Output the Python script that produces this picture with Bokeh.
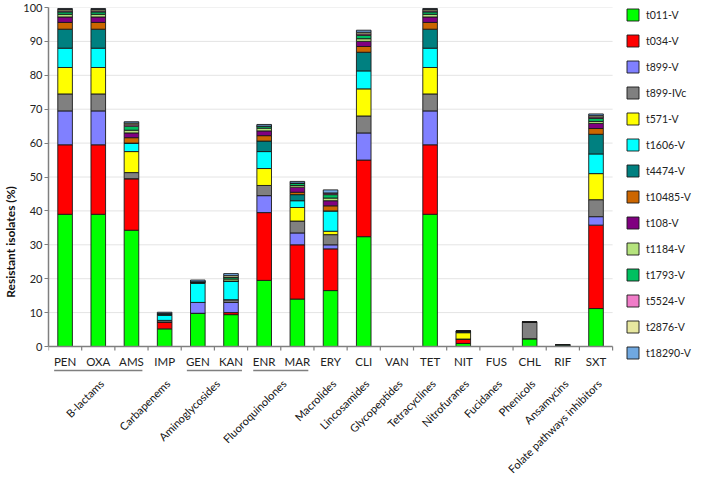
import math
from bokeh.plotting import figure
from bokeh.models import ColumnDataSource, Legend, LegendItem, FixedTicker, Range1d
from bokeh.core.properties import value
from bokeh.embed import file_html
from bokeh.resources import INLINE

# ---------------- data ----------------
categories = ["PEN", "OXA", "AMS", "IMP", "GEN", "KAN", "ENR", "MAR", "ERY",
              "CLI", "VAN", "TET", "NIT", "FUS", "CHL", "RIF", "SXT"]

groups = [
    ("B-lactams", ["PEN", "OXA", "AMS"]),
    ("Carbapenems", ["IMP"]),
    ("Aminoglycosides", ["GEN", "KAN"]),
    ("Fluoroquinolones", ["ENR", "MAR"]),
    ("Macrolides", ["ERY"]),
    ("Lincosamides", ["CLI"]),
    ("Glycopeptides", ["VAN"]),
    ("Tetracyclines", ["TET"]),
    ("Nitrofuranes", ["NIT"]),
    ("Fucidanes", ["FUS"]),
    ("Phenicols", ["CHL"]),
    ("Ansamycins", ["RIF"]),
    ("Folate pathways inhibitors", ["SXT"]),
]

series_names = ["t011-V", "t034-V", "t899-V", "t899-IVc", "t571-V", "t1606-V",
                "t4474-V", "t10485-V", "t108-V", "t1184-V", "t1793-V",
                "t5524-V", "t2876-V", "t18290-V"]

series_colors = ["#00FF00", "#FF0000", "#8080FF", "#808080", "#FFFF00", "#00FFFF",
                 "#008080", "#CC6600", "#800080", "#B5E37D", "#00C060",
                 "#F07CC8", "#E8E8A0", "#70A8E0"]

#            PEN   OXA   AMS   IMP  GEN  KAN  ENR   MAR   ERY   CLI   VAN  TET   NIT  FUS  CHL  RIF  SXT
t011_V   = [39.0, 39.0, 34.3, 5.2, 9.8, 9.4, 19.5, 14.0, 16.5, 32.4, 0.0, 39.0, 0.9, 0.0, 2.3, 0.0, 11.2]
t034_V   = [20.5, 20.5, 15.2, 2.0, 0.0, 0.6, 20.0, 16.0, 12.3, 22.6, 0.0, 20.5, 1.3, 0.0, 0.0, 0.0, 24.6]
t899_V   = [10.0, 10.0, 0.0, 0.0, 3.2, 3.0, 5.0, 3.5, 1.2, 8.0, 0.0, 10.0, 0.0, 0.0, 0.0, 0.0, 2.5]
t899_IVc = [5.0, 5.0, 1.8, 0.5, 0.0, 0.8, 3.0, 3.5, 3.0, 5.0, 0.0, 5.0, 0.0, 0.0, 5.0, 0.0, 5.0]
t571_V   = [7.8, 7.8, 6.2, 0.0, 0.0, 0.0, 5.0, 4.0, 1.0, 8.0, 0.0, 7.8, 1.9, 0.0, 0.0, 0.0, 7.7]
t1606_V  = [5.7, 5.7, 2.5, 1.5, 5.6, 5.5, 5.0, 2.0, 6.0, 5.3, 0.0, 5.7, 0.0, 0.0, 0.0, 0.0, 5.8]
t4474_V  = [5.6, 5.6, 0.0, 0.5, 0.5, 0.0, 3.1, 1.8, 0.0, 5.5, 0.0, 5.6, 0.4, 0.0, 0.0, 0.0, 5.8]
t10485_V = [2.0, 2.0, 1.6, 0.0, 0.0, 0.0, 1.6, 0.7, 1.5, 1.7, 0.0, 2.0, 0.0, 0.0, 0.0, 0.0, 1.7]
t108_V   = [1.6, 1.6, 1.4, 0.0, 0.0, 0.0, 1.4, 1.5, 1.5, 1.5, 0.0, 1.6, 0.0, 0.0, 0.0, 0.0, 1.5]
t1184_V  = [0.8, 0.8, 0.8, 0.0, 0.0, 0.6, 0.8, 0.5, 0.8, 0.8, 0.0, 0.8, 0.0, 0.0, 0.0, 0.0, 0.6]
t1793_V  = [0.7, 0.7, 1.2, 0.0, 0.0, 0.5, 0.6, 0.7, 1.0, 1.0, 0.0, 0.7, 0.0, 0.0, 0.0, 0.5, 0.9]
t5524_V  = [0.3, 0.3, 0.4, 0.0, 0.0, 0.0, 0.0, 0.0, 0.5, 0.4, 0.0, 0.3, 0.0, 0.0, 0.0, 0.0, 0.4]
t2876_V  = [0.4, 0.4, 0.5, 0.0, 0.0, 0.5, 0.0, 0.0, 0.0, 0.5, 0.0, 0.4, 0.0, 0.0, 0.0, 0.0, 0.4]
t18290_V = [0.3, 0.3, 0.4, 0.4, 0.5, 0.6, 0.5, 0.5, 0.9, 0.6, 0.0, 0.3, 0.0, 0.0, 0.0, 0.0, 0.5]

series_values = [t011_V, t034_V, t899_V, t899_IVc, t571_V, t1606_V, t4474_V,
                 t10485_V, t108_V, t1184_V, t1793_V, t5524_V, t2876_V, t18290_V]

y_ticks = list(range(0, 101, 10))
y_label = "Resistant isolates (%)"

# ---------------- layout ----------------
FONT = "Lato"
W, H = 693, 476
BORDER_L, BORDER_T = 36, 7
FRAME_W = W - BORDER_L
FRAME_H = H - BORDER_T
N = len(categories)
PX_X = 33.8                    # pixels per category
X_END = FRAME_W / PX_X
PX_Y = 3.39                    # pixels per percent
Y_START = 100 - FRAME_H / PX_Y


def px_down(px):
    """data-y of a point px pixels below the baseline"""
    return -px / PX_Y


centers = [i + 0.5 for i in range(N)]
data = {"x": centers}
for name, vals in zip(series_names, series_values):
    data[name] = vals
source = ColumnDataSource(data)

p = figure(width=W, height=H, output_backend="svg", toolbar_location=None,
           x_range=Range1d(0, X_END), y_range=Range1d(Y_START, 100),
           x_axis_location=None,
           min_border_left=BORDER_L, min_border_right=0,
           min_border_top=BORDER_T, min_border_bottom=0)
p.outline_line_color = None
p.xgrid.visible = False
p.ygrid.visible = False
p.background_fill_color = "white"

# gridlines
p.segment(x0=[0] * (len(y_ticks) - 1), x1=[N] * (len(y_ticks) - 1),
          y0=y_ticks[1:], y1=y_ticks[1:], line_color="#e4e4e4", line_width=1,
          level="underlay")

# y axis
ax = p.yaxis[0]
ax.bounds = (0, 100)
ax.ticker = FixedTicker(ticks=y_ticks)
ax.axis_line_color = "#7f7f7f"
ax.axis_line_width = 1.5
ax.major_tick_line_color = "#7f7f7f"
ax.major_tick_out = 4
ax.major_tick_in = 0
ax.minor_tick_out = 0
ax.minor_tick_in = 0
ax.major_label_standoff = 2
ax.major_label_text_font = FONT
ax.major_label_text_font_size = "11px"
ax.major_label_text_color = "#222222"
ax.axis_label = y_label
ax.axis_label_text_font = FONT
ax.axis_label_text_font_size = "12px"
ax.axis_label_text_font_style = "bold"
ax.axis_label_text_color = "#111111"
ax.axis_label_standoff = 2

# bars
renderers = p.vbar_stack(series_names, x="x", width=0.44, source=source,
                         fill_color=series_colors, line_color="#1a1a1a",
                         line_width=0.9)

# x axis (drawn in the frame, below the baseline)
p.segment(x0=[0], x1=[N], y0=[0], y1=[0], line_color="#7f7f7f", line_width=1.5)
bounds_x = list(range(N + 1))
p.segment(x0=bounds_x, x1=bounds_x, y0=[0] * (N + 1),
          y1=[px_down(4)] * (N + 1), line_color="#7f7f7f", line_width=1.2)

p.text(x=centers, y=[px_down(15)] * N, text=categories,
       text_align="center", text_baseline="middle",
       text_font=value(FONT), text_font_size="11.5px", text_color="#222222")

# group underlines and rotated group labels
ux0, ux1, gx, gnames = [], [], [], []
for gname, members in groups:
    idx = [categories.index(m) for m in members]
    c0, c1 = centers[min(idx)], centers[max(idx)]
    if len(idx) > 1:
        ux0.append(c0 - 0.33)
        ux1.append(c1 + 0.33)
    gx.append((c0 + c1) / 2 + 0.1)
    gnames.append(gname)

p.segment(x0=ux0, x1=ux1, y0=[px_down(24)] * len(ux0), y1=[px_down(24)] * len(ux0),
          line_color="#7f7f7f", line_width=1.6)

p.text(x=gx, y=[px_down(35)] * len(gx), text=gnames, angle=math.pi / 4,
       text_align="right", text_baseline="middle",
       text_font=value(FONT), text_font_size="11px", text_color="#111111")

# legend
items = [LegendItem(label=name, renderers=[r]) for name, r in zip(series_names, renderers)]
legend = Legend(items=items, location=(577, 116), orientation="vertical",
                glyph_width=15, glyph_height=15, label_height=15, spacing=11,
                label_standoff=6, padding=0, margin=0,
                label_text_font=FONT, label_text_font_size="10.5px",
                label_text_color="#222222",
                border_line_color=None, background_fill_alpha=0)
p.add_layout(legend, "center")

open("out.html", "w").write(file_html(p, INLINE))
